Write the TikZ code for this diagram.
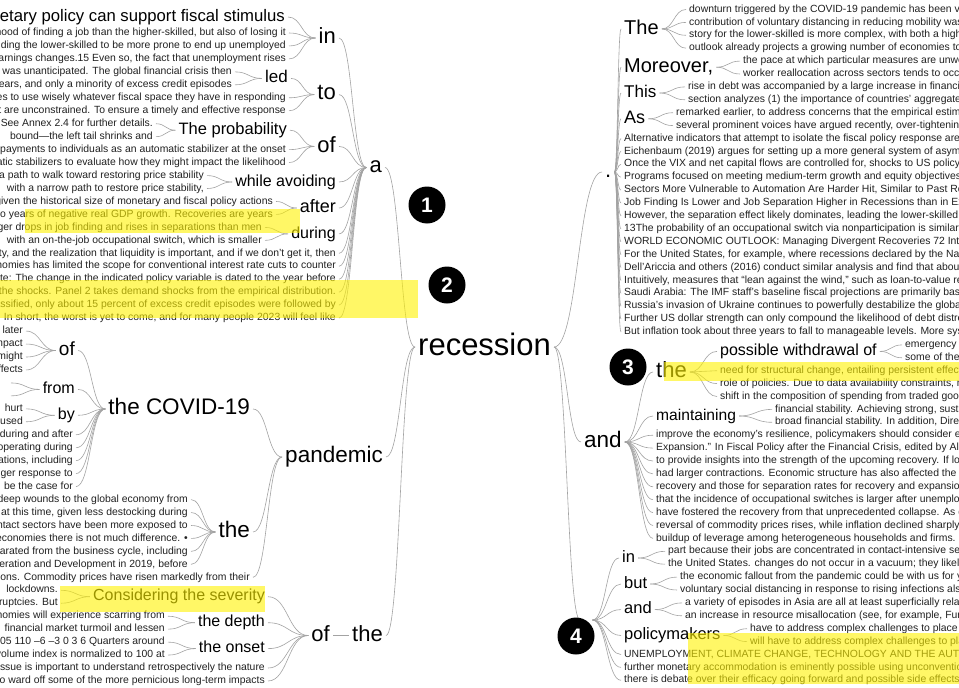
\documentclass[tikz,border=0pt]{standalone}
\usepackage{fontspec}
\setmainfont{Liberation Sans}
\usetikzlibrary{calc}
\begin{document}
\newcommand\lleaf[4]{\node[lf,anchor=east] (#1) at (#2,{33+12.96*(#3)}) {#4};}
\newcommand\rleaf[4]{\node[lf,anchor=west] (#1) at (#2,{9.5+12.9*(#3)}) {#4};}
\begin{tikzpicture}[x=1pt,y=-1pt,
  lab/.style={font=\fontsize{#1}{#1}\selectfont, inner xsep=3pt, inner ysep=0pt, execute at begin node={\vphantom{Hg}}},
  lf/.style={lab=10.4, text=black!87},
  lnk/.style={draw=black!36, line width=0.6pt, to path={let \p1=(\tikztostart), \p2=(\tikztotarget) in .. controls ({0.5*\x1+0.5*\x2},\y1) and ({0.5*\x1+0.5*\x2},\y2) .. (\tikztotarget)}},
  hl/.style={fill=yellow, fill opacity=0.6, draw=none},
  badge/.style={circle, fill=black, text=white, minimum size=37pt, inner sep=0pt, font=\fontsize{21}{21}\selectfont\bfseries}
]
\useasboundingbox (0,0) rectangle (959,688);
\clip (0,0) rectangle (959,688);
\fill[white] (0,0) rectangle (959,688);

% ---------- left top ----------
\node[lab=16.7,anchor=east] (lbig) at (288,17) {monetary policy can support fiscal stimulus};
\lleaf{l0}{289}{0}{likelihood of finding a job than the higher-skilled, but also of losing it}
\lleaf{l1}{289}{1}{including the lower-skilled to be more prone to end up unemployed}
\lleaf{l2}{289}{2}{earnings changes.15 Even so, the fact that unemployment rises}
\lleaf{l3}{235}{3}{it was unanticipated. The global financial crisis then}
\lleaf{l4}{235}{4}{years, and only a minority of excess credit episodes}
\lleaf{l5}{289}{5}{economies to use wisely whatever fiscal space they have in responding}
\lleaf{l6}{289}{6}{that are unconstrained. To ensure a timely and effective response}
\lleaf{l7}{156}{7}{See Annex 2.4 for further details.}
\lleaf{l8}{156}{8}{bound—the left tail shrinks and}
\lleaf{l9}{289}{9}{payments to individuals as an automatic stabilizer at the onset}
\lleaf{l10}{289}{10}{automatic stabilizers to evaluate how they might impact the likelihood}
\lleaf{l11}{207}{11}{a path to walk toward restoring price stability}
\lleaf{l12}{207}{12}{with a narrow path to restore price stability,}
\lleaf{l13}{276}{13}{given the historical size of monetary and fiscal policy actions}
\lleaf{l14}{276}{14}{two years of negative real GDP growth. Recoveries are years}
\lleaf{l15}{265}{15}{larger drops in job finding and rises in separations than men}
\lleaf{l16}{265}{16}{with an on-the-job occupational switch, which is smaller}
\lleaf{l17}{339}{17}{uncertainty, and the realization that liquidity is important, and if we don’t get it, then}
\lleaf{l18}{339}{18}{economies has limited the scope for conventional interest rate cuts to counter}
\lleaf{l19}{339}{19}{Note: The change in the indicated policy variable is dated to the year before}
\lleaf{l20}{339}{20}{the shocks. Panel 2 takes demand shocks from the empirical distribution.}
\lleaf{l21}{339}{21}{classified, only about 15 percent of excess credit episodes were followed by}
\lleaf{l22}{339}{22}{In short, the worst is yet to come, and for many people 2023 will feel like}

\node[lab=22,anchor=east] (na) at (385,167.5) {a};
\node[lab=22,anchor=east] (nIn) at (339,38) {in};
\node[lab=22,anchor=east] (nTo) at (339,94.6) {to};
\node[lab=22,anchor=east] (ofT) at (339,146.4) {of};
\node[lab=16,anchor=east] (wav) at (339,182) {while avoiding};
\node[lab=18,anchor=east] (aft) at (339,208) {after};
\node[lab=16,anchor=east] (dur) at (339,233.9) {during};
\node[lab=16.5,anchor=east] (prob) at (290,130.2) {The probability};
\node[lab=17,anchor=east] (led) at (291,78.4) {led};

% ---------- left bottom ----------
\lleaf{lb23}{26}{23}{later}
\lleaf{lb24}{26}{24}{impact}
\lleaf{lb25}{26}{25}{might}
\lleaf{lb26}{26}{26}{effects}
\coordinate (fr1) at (11,{33+12.96*27});
\coordinate (fr2) at (11,{33+12.96*28});
\lleaf{lb29}{26}{29}{hurt}
\lleaf{lb30}{26}{30}{caused}
\lleaf{lb31}{76}{31}{during and after}
\lleaf{lb32}{76}{32}{operating during}
\lleaf{lb33}{76}{33}{operations, including}
\lleaf{lb34}{76}{34}{stronger response to}
\lleaf{lb35}{76}{35}{be the case for}
\lleaf{lb36}{191}{36}{deep wounds to the global economy from}
\lleaf{lb37}{191}{37}{at this time, given less destocking during}
\lleaf{lb38}{191}{38}{contact sectors have been more exposed to}
\lleaf{lb39}{191}{39}{economies there is not much difference. •}
\lleaf{lb40}{191}{40}{separated from the business cycle, including}
\lleaf{lb41}{191}{41}{Cooperation and Development in 2019, before}
\lleaf{lb42}{253}{42}{restrictions. Commodity prices have risen markedly from their}
\lleaf{lb43}{61}{43}{lockdowns.}
\lleaf{lb44}{61}{44}{bankruptcies. But}
\lleaf{lb45}{168}{45}{economies will experience scarring from}
\lleaf{lb46}{168}{46}{financial market turmoil and lessen}
\lleaf{lb47}{168}{47}{105 110 –6 –3 0 3 6 Quarters around}
\lleaf{lb48}{168}{48}{volume index is normalized to 100 at}
\lleaf{lb49}{268}{49}{issue is important to understand retrospectively the nature}
\lleaf{lb50}{268}{50}{to ward off some of the more pernicious long-term impacts}

\node[lab=22.5,anchor=east] (pand) at (386,457) {pandemic};
\node[lab=22.5,anchor=east] (covid) at (253,409) {the COVID-19};
\node[lab=22.5,anchor=east] (theL) at (253,532) {the};
\node[lab=19,anchor=east] (ofL) at (78,350.5) {of};
\node[lab=16,anchor=east] (from) at (78,389.4) {from};
\node[lab=16,anchor=east] (by) at (78,415.3) {by};
\node[lab=16,anchor=east] (cons) at (268,596.7) {Considering the severity};
\node[lab=16,anchor=east] (depth) at (268,622.7) {the depth};
\node[lab=16,anchor=east] (onset) at (268,648.6) {the onset};
\node[lab=22,anchor=east] (ofB) at (333,635.5) {of};
\node[lab=22,anchor=east] (theB) at (386,635.5) {the};

\node[lab=31,anchor=west] (rec) at (415,347) {recession};

% ---------- right top ----------
\node[lab=22,anchor=west] (dot) at (602,172) {.};
\node[lab=20,anchor=west] (nThe) at (621,28.9) {The};
\node[lab=20,anchor=west] (more) at (621,67.2) {Moreover,};
\node[lab=17,anchor=west] (this) at (621,93) {This};
\node[lab=18,anchor=west] (as) at (621,118.8) {As};
\rleaf{r0}{686}{0}{downturn triggered by the COVID-19 pandemic has been very}
\rleaf{r1}{686}{1}{contribution of voluntary distancing in reducing mobility was}
\rleaf{r2}{686}{2}{story for the lower-skilled is more complex, with both a higher}
\rleaf{r3}{686}{3}{outlook already projects a growing number of economies to}
\rleaf{r4}{740}{4}{the pace at which particular measures are unwound}
\rleaf{r5}{740}{5}{worker reallocation across sectors tends to occur more}
\rleaf{r6}{685}{6}{rise in debt was accompanied by a large increase in financial}
\rleaf{r7}{685}{7}{section analyzes (1) the importance of countries’ aggregate}
\rleaf{r8}{673}{8}{remarked earlier, to address concerns that the empirical estimates}
\rleaf{r9}{673}{9}{several prominent voices have argued recently, over-tightening}
\rleaf{r10}{621}{10}{Alternative indicators that attempt to isolate the fiscal policy response are a}
\rleaf{r11}{621}{11}{Eichenbaum (2019) argues for setting up a more general system of asymmetric}
\rleaf{r12}{621}{12}{Once the VIX and net capital flows are controlled for, shocks to US policy rates}
\rleaf{r13}{621}{13}{Programs focused on meeting medium-term growth and equity objectives–}
\rleaf{r14}{621}{14}{Sectors More Vulnerable to Automation Are Harder Hit, Similar to Past Recessions}
\rleaf{r15}{621}{15}{Job Finding Is Lower and Job Separation Higher in Recessions than in Expansions}
\rleaf{r16}{621}{16}{However, the separation effect likely dominates, leading the lower-skilled to}
\rleaf{r17}{621}{17}{13The probability of an occupational switch via nonparticipation is similar to}
\rleaf{r18}{621}{18}{WORLD ECONOMIC OUTLOOK: Managing Divergent Recoveries 72 International}
\rleaf{r19}{621}{19}{For the United States, for example, where recessions declared by the National}
\rleaf{r20}{621}{20}{Dell’Ariccia and others (2016) conduct similar analysis and find that about}
\rleaf{r21}{621}{21}{Intuitively, measures that “lean against the wind,” such as loan-to-value restrictions}
\rleaf{r22}{621}{22}{Saudi Arabia: The IMF staff’s baseline fiscal projections are primarily based}
\rleaf{r23}{621}{23}{Russia’s invasion of Ukraine continues to powerfully destabilize the global}
\rleaf{r24}{621}{24}{Further US dollar strength can only compound the likelihood of debt distress}
\rleaf{r25}{621}{25}{But inflation took about three years to fall to manageable levels. More systematic}

% ---------- right middle ----------
\node[lab=22.5,anchor=west] (nAnd) at (581,442) {and};
\node[lab=22,anchor=west] (theR) at (653,372) {the};
\node[lab=16,anchor=west] (poss) at (717,351.4) {possible withdrawal of};
\node[lab=15.6,anchor=west] (maint) at (653,416) {maintaining};
\rleaf{r26}{902}{26}{emergency}
\rleaf{r27}{902}{27}{some of the}
\rleaf{r28}{717}{28}{need for structural change, entailing persistent effects}
\rleaf{r29}{717}{29}{role of policies. Due to data availability constraints, many}
\rleaf{r30}{717}{30}{shift in the composition of spending from traded goods}
\rleaf{r31}{772}{31}{financial stability. Achieving strong, sustainable}
\rleaf{r32}{772}{32}{broad financial stability. In addition, Director}
\rleaf{r33}{653}{33}{improve the economy’s resilience, policymakers should consider enhancing}
\rleaf{r34}{653}{34}{Expansion.” In Fiscal Policy after the Financial Crisis, edited by Alberto}
\rleaf{r35}{653}{35}{to provide insights into the strength of the upcoming recovery. If lockdowns}
\rleaf{r36}{653}{36}{had larger contractions. Economic structure has also affected the extent}
\rleaf{r37}{653}{37}{recovery and those for separation rates for recovery and expansion}
\rleaf{r38}{653}{38}{that the incidence of occupational switches is larger after unemployment}
\rleaf{r39}{653}{39}{have fostered the recovery from that unprecedented collapse. As discussed}
\rleaf{r40}{653}{40}{reversal of commodity prices rises, while inflation declined sharply as}
\rleaf{r41}{653}{41}{buildup of leverage among heterogeneous households and firms. However}

% ---------- right bottom ----------
\node[lab=22,anchor=west] (comma) at (580,620) {,};
\node[lab=16.5,anchor=west] (inR) at (619,558) {in};
\node[lab=16.5,anchor=west] (but) at (621,584) {but};
\node[lab=16.5,anchor=west] (and2) at (621,609.6) {and};
\node[lab=16.5,anchor=west] (policy) at (621,635.5) {policymakers};
\rleaf{r42}{665}{42}{part because their jobs are concentrated in contact-intensive sectors}
\rleaf{r43}{665}{43}{the United States. changes do not occur in a vacuum; they likely}
\rleaf{r44}{677}{44}{the economic fallout from the pandemic could be with us for years}
\rleaf{r45}{677}{45}{voluntary social distancing in response to rising infections also}
\rleaf{r46}{682}{46}{a variety of episodes in Asia are all at least superficially related}
\rleaf{r47}{682}{47}{an increase in resource misallocation (see, for example, Furceri}
\rleaf{r48}{747}{48}{have to address complex challenges to place}
\rleaf{r49}{747}{49}{will have to address complex challenges to place}
\rleaf{r50}{621}{50}{UNEMPLOYMENT, CLIMATE CHANGE, TECHNOLOGY AND THE AUTOMATION}
\rleaf{r51}{621}{51}{further monetary accommodation is eminently possible using unconventional}
\rleaf{r52}{621}{52}{there is debate over their efficacy going forward and possible side effects,}

% ---------- connectors: left ----------
\foreach \c in {lbig,l0,l1,l2} \draw[lnk] (\c.east) to (nIn.west);
\foreach \c in {l3,l4} \draw[lnk] (\c.east) to (led.west);
\foreach \c in {led,l5,l6} \draw[lnk] (\c.east) to (nTo.west);
\foreach \c in {l7,l8} \draw[lnk] (\c.east) to (prob.west);
\foreach \c in {prob,l9,l10} \draw[lnk] (\c.east) to (ofT.west);
\foreach \c in {l11,l12} \draw[lnk] (\c.east) to (wav.west);
\foreach \c in {l13,l14} \draw[lnk] (\c.east) to (aft.west);
\foreach \c in {l15,l16} \draw[lnk] (\c.east) to (dur.west);
\foreach \c in {nIn,nTo,ofT,wav,aft,dur,l17,l18,l19,l20,l21,l22} \draw[lnk] (\c.east) to (na.west);
\foreach \c in {lb23,lb24,lb25,lb26} \draw[lnk] (\c.east) to (ofL.west);
\foreach \c in {fr1,fr2} \draw[lnk] (\c) to (from.west);
\foreach \c in {lb29,lb30} \draw[lnk] (\c.east) to (by.west);
\foreach \c in {ofL,from,by,lb31,lb32,lb33,lb34,lb35} \draw[lnk] (\c.east) to (covid.west);
\foreach \c in {lb36,lb37,lb38,lb39,lb40,lb41} \draw[lnk] (\c.east) to (theL.west);
\foreach \c in {covid,theL,lb42} \draw[lnk] (\c.east) to (pand.west);
\foreach \c in {lb43,lb44} \draw[lnk] (\c.east) to (cons.west);
\foreach \c in {lb45,lb46} \draw[lnk] (\c.east) to (depth.west);
\foreach \c in {lb47,lb48} \draw[lnk] (\c.east) to (onset.west);
\foreach \c in {cons,depth,onset,lb49,lb50} \draw[lnk] (\c.east) to (ofB.west);
\draw[lnk] (ofB.east) to (theB.west);
\foreach \c in {na,pand,theB} \draw[lnk] (\c.east) to (rec.west);

% ---------- connectors: right ----------
\foreach \c in {dot,nAnd,comma} \draw[lnk] (rec.east) to (\c.west);
\foreach \c in {nThe,more,this,as,r10,r11,r12,r13,r14,r15,r16,r17,r18,r19,r20,r21,r22,r23,r24,r25} \draw[lnk] (dot.east) to (\c.west);
\foreach \c in {r0,r1,r2,r3} \draw[lnk] (nThe.east) to (\c.west);
\foreach \c in {r4,r5} \draw[lnk] (more.east) to (\c.west);
\foreach \c in {r6,r7} \draw[lnk] (this.east) to (\c.west);
\foreach \c in {r8,r9} \draw[lnk] (as.east) to (\c.west);
\foreach \c in {theR,maint,r33,r34,r35,r36,r37,r38,r39,r40,r41} \draw[lnk] (nAnd.east) to (\c.west);
\foreach \c in {poss,r28,r29,r30} \draw[lnk] (theR.east) to (\c.west);
\foreach \c in {r26,r27} \draw[lnk] (poss.east) to (\c.west);
\foreach \c in {r31,r32} \draw[lnk] (maint.east) to (\c.west);
\foreach \c in {inR,but,and2,policy,r50,r51,r52} \draw[lnk] (comma.east) to (\c.west);
\foreach \c in {r42,r43} \draw[lnk] (inR.east) to (\c.west);
\foreach \c in {r44,r45} \draw[lnk] (but.east) to (\c.west);
\foreach \c in {r46,r47} \draw[lnk] (and2.east) to (\c.west);
\foreach \c in {r48,r49} \draw[lnk] (policy.east) to (\c.west);

% ---------- highlights ----------
\fill[hl] (25,209) rectangle (300,233);
\fill[hl] (0,280) rectangle (418,318);
\fill[hl] (60,586) rectangle (265,612);
\fill[hl] (664,362) rectangle (959,381);
\fill[hl] (688,633) rectangle (959,684);

% ---------- badges ----------
\node[badge] (b1) at (427,205) {1};
\node[badge] (b2) at (447,285) {2};
\node[badge] (b3) at (628,367) {3};
\node[badge] (b4) at (576,636) {4};
\end{tikzpicture}
\end{document}
